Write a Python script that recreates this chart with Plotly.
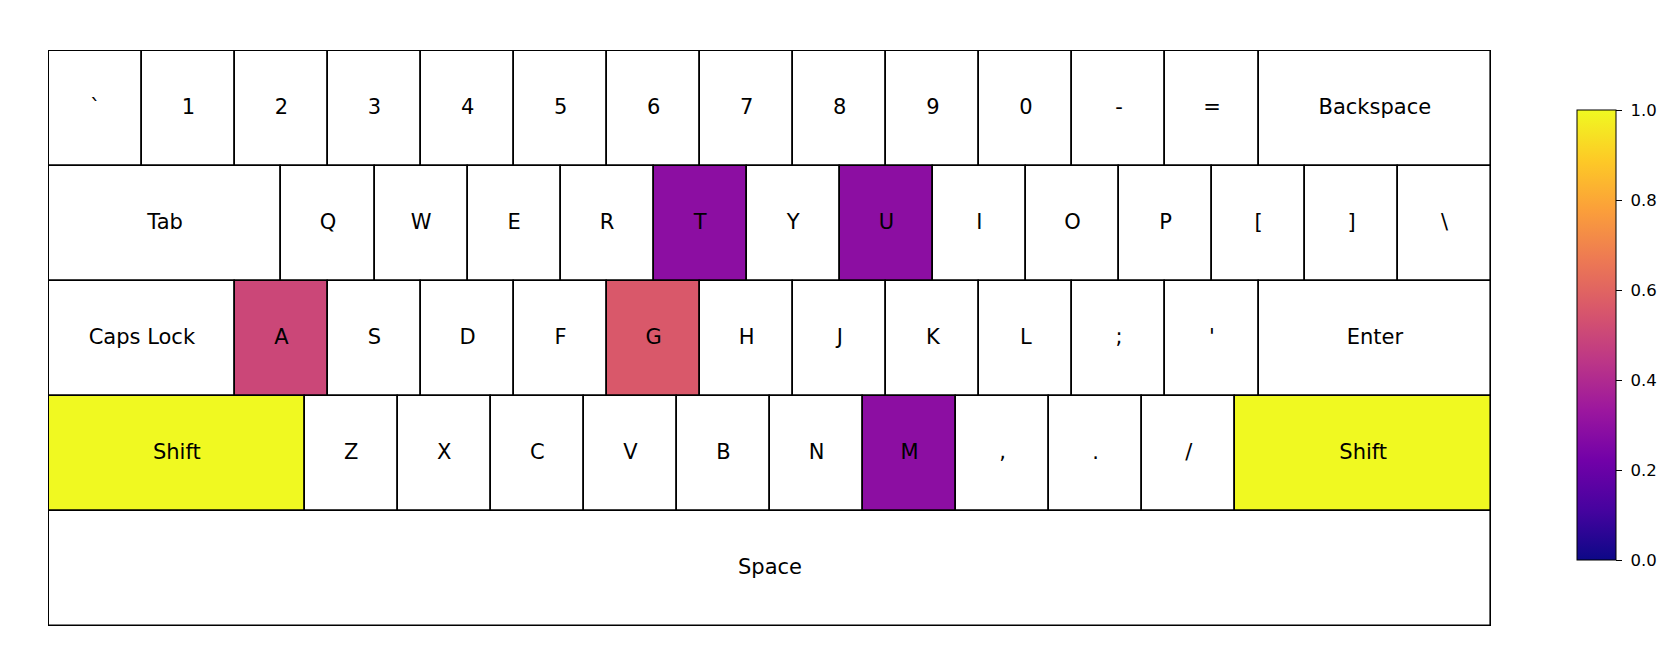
import plotly.graph_objects as go
from plotly.colors import sample_colorscale

# ---- data ----
row0_keys = ["`", "1", "2", "3", "4", "5", "6", "7", "8", "9", "0", "-", "=", "Backspace"]
row0_widths = [1] * 13 + [2.5]
row1_keys = ["Tab", "Q", "W", "E", "R", "T", "Y", "U", "I", "O", "P", "[", "]", "\\"]
row1_widths = [2.5] + [1] * 13
row2_keys = ["Caps Lock", "A", "S", "D", "F", "G", "H", "J", "K", "L", ";", "'", "Enter"]
row2_widths = [2] + [1] * 11 + [2.5]
row3_keys = ["Shift", "Z", "X", "C", "V", "B", "N", "M", ",", ".", "/", "Shift"]
row3_widths = [2.75] + [1] * 10 + [2.75]
row4_keys = ["Space"]
row4_widths = [15.5]

heat_keys = ["T", "U", "M", "A", "G", "Shift"]
heat_values = [0.29, 0.29, 0.29, 0.50, 0.56, 1.0]

cbar_ticks = [0, 0.2, 0.4, 0.6, 0.8, 1.0]
cbar_labels = ["0.0", "0.2", "0.4", "0.6", "0.8", "1.0"]

rows_keys = [row0_keys, row1_keys, row2_keys, row3_keys, row4_keys]
rows_widths = [row0_widths, row1_widths, row2_widths, row3_widths, row4_widths]
heat = dict(zip(heat_keys, heat_values))

# ---- build bar geometry ----
bx, bbase, by, bcol, tx, ty, tt = [], [], [], [], [], [], []
for r, (keys, widths) in enumerate(zip(rows_keys, rows_widths)):
    start = 0.0
    for k, w in zip(keys, widths):
        bx.append(w)
        bbase.append(start)
        by.append(r + 0.5)
        if k in heat:
            bcol.append(sample_colorscale("Plasma", [heat[k]])[0])
        else:
            bcol.append("white")
        tx.append(start + w / 2)
        ty.append(r + 0.5)
        tt.append(k)
        start += w

fig = go.Figure()
fig.add_trace(go.Bar(
    orientation="h", x=bx, base=bbase, y=by, width=[1] * len(bx),
    marker=dict(color=bcol, line=dict(color="black", width=1.6)),
    hoverinfo="skip", showlegend=False,
))
fig.add_trace(go.Scatter(
    x=tx, y=ty, text=tt, mode="text", textposition="middle center",
    textfont=dict(family="DejaVu Sans", size=21, color="black"),
    hoverinfo="skip", showlegend=False,
))
fig.add_trace(go.Scatter(
    x=[0.5], y=[0.5], mode="markers",
    marker=dict(size=0, color=[0], coloraxis="coloraxis", opacity=0),
    hoverinfo="skip", showlegend=False,
))

fig.update_layout(
    width=1676, height=656,
    margin=dict(l=48, r=184, t=50, b=29, autoexpand=False),
    paper_bgcolor="white", plot_bgcolor="white",
    barmode="overlay", bargap=0,
    font=dict(family="DejaVu Sans", color="black"),
    xaxis=dict(range=[-0.009, 15.509], visible=False, fixedrange=True),
    yaxis=dict(range=[5.007, -0.007], visible=False, fixedrange=True),
    coloraxis=dict(
        colorscale="Plasma", cmin=0, cmax=1,
        colorbar=dict(
            x=(1577 - 48) / 1444, xanchor="left", xref="paper",
            y=(627 - 335) / 577, yanchor="middle",
            thickness=39, thicknessmode="pixels",
            len=450, lenmode="pixels",
            outlinecolor="black", outlinewidth=1,
            ticks="outside", ticklen=6, tickwidth=1, tickcolor="black",
            tickvals=cbar_ticks,
            ticktext=["\u00a0" + t for t in cbar_labels],
            tickfont=dict(family="DejaVu Sans", size=16.5, color="black"),
            xpad=0, ypad=0,
        ),
    ),
)

fig.write_html("out.html")
